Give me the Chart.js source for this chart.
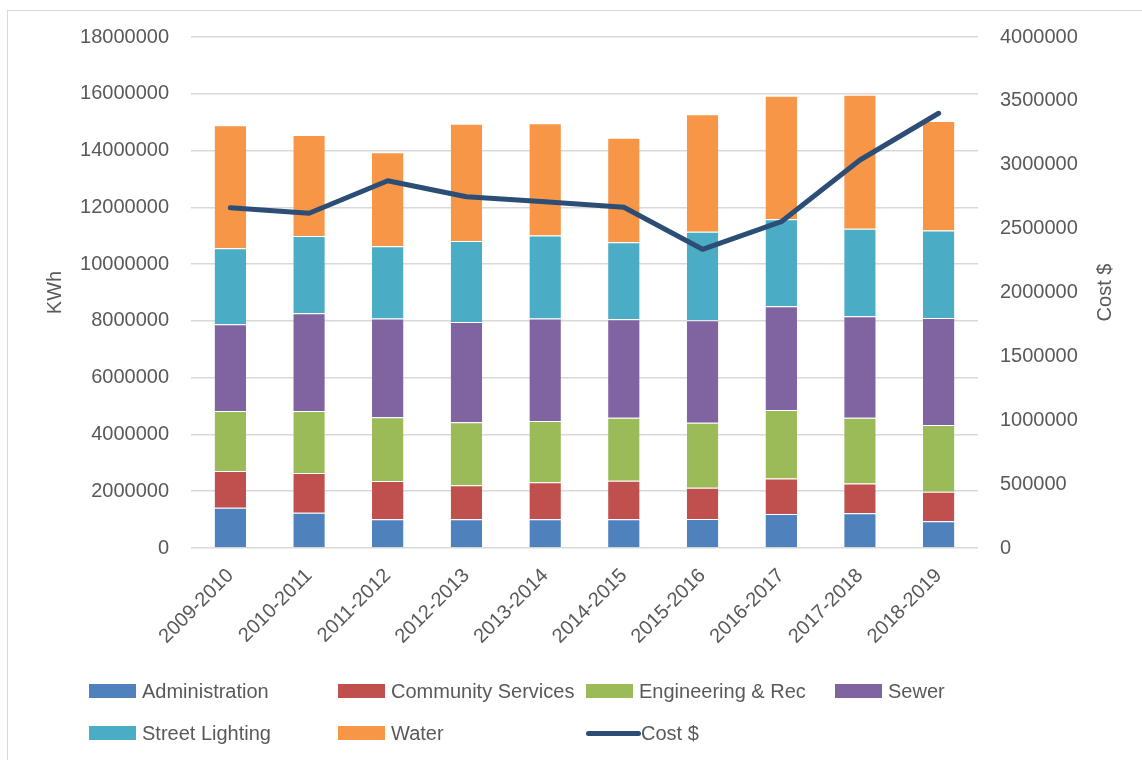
<!DOCTYPE html>
<html>
<head>
<meta charset="utf-8">
<script src="https://cdn.jsdelivr.net/npm/chart.js@4.4.1/dist/chart.umd.min.js"></script>
<style>
  body { margin: 0; background: #fff; overflow: hidden; font-family: "Liberation Sans", Arial, sans-serif; }
  #wrap { position: relative; width: 1142px; height: 760px; }
  #frame { position: absolute; left: 7px; top: 10px; width: 1200px; height: 800px; border: 1.5px solid #d9d9d9; }
  canvas { position: absolute; left: 0; top: 0; }
  .lg { position: absolute; display: flex; align-items: center; font-size: 20px; color: #595959; white-space: nowrap; }
  .lg .sw { width: 47px; height: 14px; margin-right: 6px; }
  .lg .ln { width: 55px; height: 5px; border-radius: 3px; margin-right: 0; }
</style>
</head>
<body>
<div id="wrap">
  <div id="frame"></div>
  <canvas id="chart" width="1142" height="760"></canvas>
  <div id="legend"></div>
</div>
<script>
const years = ['2009-2010', '2010-2011', '2011-2012', '2012-2013', '2013-2014',
               '2014-2015', '2015-2016', '2016-2017', '2017-2018', '2018-2019'];

// KWh per department
const administration = [1420000, 1240000, 1010000, 1010000, 1010000, 1010000, 1020000, 1200000, 1220000, 940000];
const communityServices = [1290000, 1400000, 1350000, 1200000, 1310000, 1360000, 1100000, 1250000, 1050000, 1040000];
const engineeringRec = [2120000, 2190000, 2250000, 2220000, 2150000, 2220000, 2290000, 2410000, 2320000, 2350000];
const sewer = [3050000, 3440000, 3470000, 3530000, 3610000, 3470000, 3610000, 3660000, 3570000, 3770000];
const streetLighting = [2680000, 2720000, 2550000, 2850000, 2930000, 2710000, 3120000, 3060000, 3090000, 3080000];
const water = [4330000, 3560000, 3310000, 4130000, 3950000, 3680000, 4140000, 4350000, 4720000, 3860000];

// cost in dollars (right axis)
const cost = [2664000, 2620000, 2875000, 2750000, 2711000, 2667000, 2338000, 2554000, 3037000, 3403000];

const textColor = '#595959';
const gridColor = '#d9d9d9';
const font = { family: '"Liberation Sans", Arial, sans-serif', size: 20 };
const plain = v => String(v); // no thousands separators, like the original

const barSet = (label, data, color) => ({
    type: 'bar', label, data, backgroundColor: color,
    borderColor: 'rgba(255,255,255,0.6)', borderWidth: { top: 1 },
    yAxisID: 'y', stack: 'kwh', order: 1
});

// axis titles drawn by hand so both read bottom-to-top
const axisTitles = {
    id: 'axisTitles',
    afterDraw(chart) {
        const ctx = chart.ctx;
        const mid = (chart.chartArea.top + chart.chartArea.bottom) / 2;
        ctx.save();
        ctx.fillStyle = textColor;
        ctx.font = `${font.size}px ${font.family}`;
        ctx.textAlign = 'center';
        ctx.textBaseline = 'middle';
        [[55, 'KWh'], [1105, 'Cost $']].forEach(([x, t]) => {
            ctx.save();
            ctx.translate(x, mid);
            ctx.rotate(-Math.PI / 2);
            ctx.fillText(t, 0, 0);
            ctx.restore();
        });
        ctx.restore();
    }
};

const chart = new Chart(document.getElementById('chart'), {
    data: {
        labels: years,
        datasets: [
            barSet('Administration', administration, '#4f81bd'),
            barSet('Community Services', communityServices, '#c0504d'),
            barSet('Engineering & Rec', engineeringRec, '#9bbb59'),
            barSet('Sewer', sewer, '#8064a2'),
            barSet('Street Lighting', streetLighting, '#4bacc6'),
            barSet('Water', water, '#f79646'),
            {
                type: 'line', label: 'Cost $', data: cost,
                borderColor: '#2c4d75', backgroundColor: '#2c4d75',
                borderWidth: 5, pointRadius: 0, tension: 0,
                borderCapStyle: 'round', borderJoinStyle: 'round',
                yAxisID: 'y1', order: 0
            }
        ]
    },
    options: {
        responsive: false,
        animation: false,
        layout: { padding: { top: 37 } },
        datasets: { bar: { categoryPercentage: 1, barPercentage: 0.4 } },
        plugins: { legend: { display: false }, tooltip: { enabled: false } },
        scales: {
            x: {
                stacked: true,
                grid: { display: false },
                border: { display: false },
                ticks: { color: textColor, font, minRotation: 45, maxRotation: 45, padding: 8 },
                afterFit: s => { s.height = 760 - 548; }
            },
            y: {
                stacked: true,
                min: 0, max: 18000000,
                grid: { color: gridColor, lineWidth: 1.5, drawTicks: false },
                border: { display: false },
                ticks: { stepSize: 2000000, color: textColor, font, padding: 22, callback: plain },
                afterFit: s => { s.width = 191; }
            },
            y1: {
                position: 'right',
                min: 0, max: 4000000,
                grid: { display: false, drawTicks: false },
                border: { display: false },
                ticks: { stepSize: 500000, color: textColor, font, padding: 22, callback: plain },
                afterFit: s => { s.width = 1142 - 978; }
            }
        }
    },
    plugins: [axisTitles]
});

// legend laid out as a fixed grid like the original
const cols = [89, 338, 586, 835];
const rows = [691, 733];
const legend = document.getElementById('legend');
chart.data.datasets.forEach((ds, i) => {
    const item = document.createElement('div');
    item.className = 'lg';
    const r = Math.floor(i / 4), c = i % 4;
    item.style.left = cols[c] + 'px';
    item.style.top = (rows[r] - 12) + 'px';
    item.style.height = '24px';
    const sw = document.createElement('span');
    sw.className = ds.type === 'line' ? 'ln' : 'sw';
    sw.style.background = ds.backgroundColor;
    item.appendChild(sw);
    item.appendChild(document.createTextNode(ds.label));
    legend.appendChild(item);
});
</script>
</body>
</html>
